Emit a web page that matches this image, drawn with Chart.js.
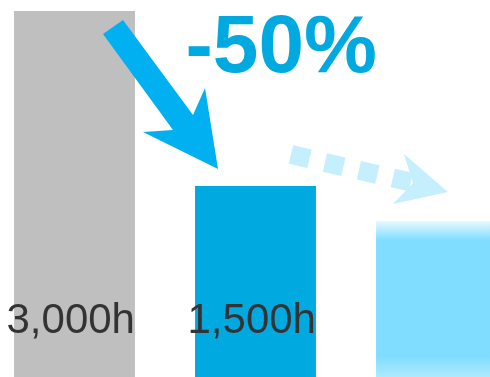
<!DOCTYPE html>
<html>
<head>
<meta charset="utf-8">
<script src="https://cdn.jsdelivr.net/npm/chart.js@4"></script>
<style>
  body { margin: 0; overflow: hidden; background: #fff; }
  #wrap { position: absolute; left: -16px; top: 0; width: 543px; height: 377px; }
</style>
</head>
<body>
<div id="wrap"><canvas id="myChart"></canvas></div>
<script>
const categories = ['Before', 'After', 'Next'];
const hours = [3000, 1500, 1200];
const showLabel = [true, true, false];
const dropText = '-50%';

const axisMin = -137;
const axisMax = 3000;

// light bar fades out at the top and slightly at the bottom
function fadeFill(context) {
  const chart = context.chart;
  const area = chart.chartArea;
  if (!area) return '#80ddff';
  if (context.dataIndex !== 2) return ['#bfbfbf', '#00a9e0'][context.dataIndex];
  const top = chart.scales.y.getPixelForValue(hours[2]);
  const g = chart.ctx.createLinearGradient(0, top, 0, area.bottom);
  const h = area.bottom - top;
  g.addColorStop(0, '#e9f9ff');
  g.addColorStop(19 / h, '#80ddff');
  g.addColorStop(1 - 20 / h, '#80ddff');
  g.addColorStop(1, '#aeeaff');
  return g;
}

const decorations = {
  id: 'decorations',
  afterDatasetsDraw(chart) {
    const c = chart.ctx;
    const bars = chart.getDatasetMeta(0).data;
    const b1 = bars[1], b2 = bars[2];

    // value labels
    c.save();
    c.font = '42px "Liberation Sans", Arial, sans-serif';
    c.fillStyle = '#333333';
    c.textAlign = 'right';
    c.textBaseline = 'alphabetic';
    bars.forEach((bar, i) => {
      if (!showLabel[i]) return;
      c.fillText(hours[i].toLocaleString('en-US') + 'h', bar.x + bar.width / 2, chart.chartArea.bottom - 44);
    });
    c.restore();

    // big drop arrow into the second bar
    const pts = [[-152.5, -152], [-132.5, -166], [-62.5, -71], [-50.5, -98],
                 [-37.5, -17], [-112.5, -54], [-82.5, -56]];
    c.save();
    c.fillStyle = '#00b0f0';
    c.beginPath();
    pts.forEach((p, i) => {
      const x = b1.x + p[0], y = b1.y + p[1];
      if (i === 0) c.moveTo(x, y); else c.lineTo(x, y);
    });
    c.closePath();
    c.fill();

    // percent text
    c.font = 'bold 82px "Liberation Sans", Arial, sans-serif';
    c.fillStyle = '#00a9e0';
    c.textAlign = 'left';
    c.textBaseline = 'alphabetic';
    c.fillText(dropText, b1.x - 70, b1.y - 114);

    // dotted arrow towards the third bar
    c.strokeStyle = '#c6effd';
    c.fillStyle = '#c6effd';
    c.lineWidth = 19;
    c.lineCap = 'butt';
    c.setLineDash([19, 15.8]);
    c.beginPath();
    c.moveTo(b2.x - 145.5, b2.y - 66.4);
    c.lineTo(b2.x - 25.7, b2.y - 38.9);
    c.stroke();
    c.setLineDash([]);
    const head = [[-32.5, -67], [11.5, -29], [-43.5, -17], [-23.5, -38]];
    c.beginPath();
    head.forEach((p, i) => {
      const x = b2.x + p[0], y = b2.y + p[1];
      if (i === 0) c.moveTo(x, y); else c.lineTo(x, y);
    });
    c.closePath();
    c.fill();
    c.restore();
  }
};

const ctx = document.getElementById('myChart');

new Chart(ctx, {
  type: 'bar',
  data: {
    labels: categories,
    datasets: [{
      data: hours,
      base: axisMin,
      backgroundColor: fadeFill,
      borderWidth: 0,
      barPercentage: 0.668,
      categoryPercentage: 1
    }]
  },
  options: {
    responsive: true,
    maintainAspectRatio: false,
    animation: false,
    layout: { padding: { top: 11, left: 0, right: 0, bottom: 0 } },
    plugins: { legend: { display: false }, tooltip: { enabled: false } },
    scales: {
      x: { display: false, offset: true },
      y: { display: false, min: axisMin, max: axisMax }
    }
  },
  plugins: [decorations]
});
</script>
</body>
</html>
